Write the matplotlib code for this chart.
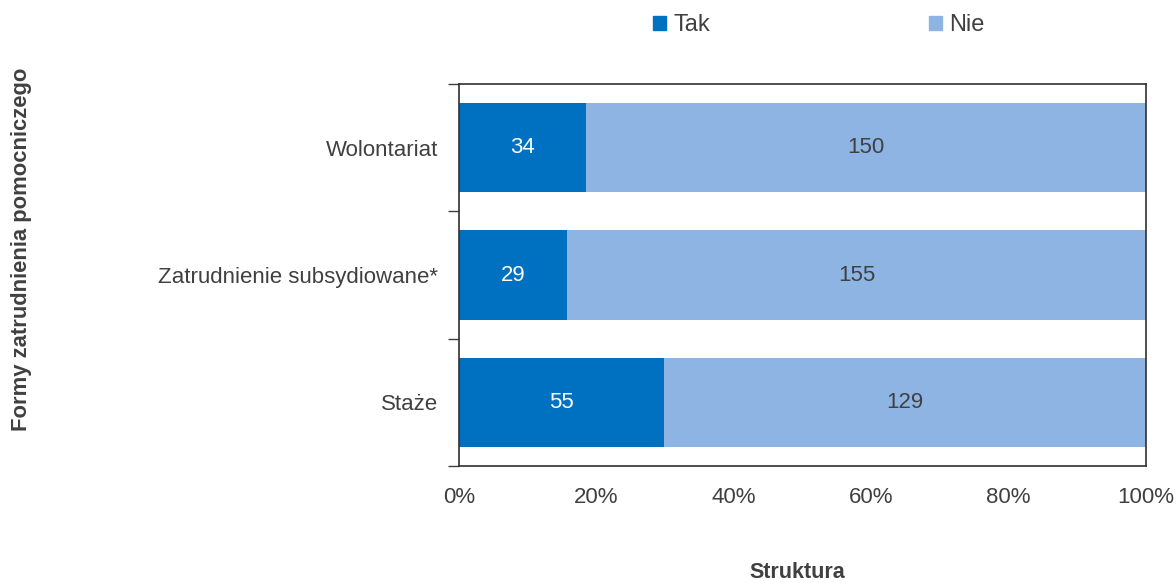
import matplotlib
matplotlib.use("Agg")
import matplotlib.pyplot as plt
from matplotlib.patches import Patch
import numpy as np

plt.rcParams['font.family'] = ['Liberation Sans', 'DejaVu Sans']

categories = ['Wolontariat', 'Zatrudnienie subsydiowane*', 'Staże']
tak = [34, 29, 55]
nie = [150, 155, 129]
series_names = ['Tak', 'Nie']

dark = '#0070C0'
light = '#8EB4E3'
text_col = '#404040'

tak_a = np.array(tak, dtype=float)
nie_a = np.array(nie, dtype=float)
total = tak_a + nie_a
tak_p = tak_a / total * 100
nie_p = nie_a / total * 100

fig = plt.figure(figsize=(11.76, 5.83), dpi=100)
ax = fig.add_axes([0.3903, 0.2007, 0.5842, 0.6552])

y = np.arange(len(categories))[::-1]
ax.barh(y, tak_p, height=0.7, color=dark)
ax.barh(y, nie_p, left=tak_p, height=0.7, color=light)

for i in range(len(categories)):
    ax.text(tak_p[i] / 2, y[i], str(tak[i]), ha='center', va='center',
            color='white', fontsize=16)
    ax.text(tak_p[i] + nie_p[i] / 2, y[i], str(nie[i]), ha='center',
            va='center', color=text_col, fontsize=16)

ax.set_xlim(0, 100)
ax.set_ylim(-0.5, len(categories) - 0.5)
ax.set_xticks(np.arange(0, 101, 20))
ax.set_xticklabels([f'{v}%' for v in range(0, 101, 20)])
ax.tick_params(axis='x', length=0, pad=15, labelsize=16, labelcolor=text_col)

ax.set_yticks(y)
ax.set_yticklabels(categories)
ax.tick_params(axis='y', length=0, pad=15, labelsize=16, labelcolor=text_col)
# boundary ticks between categories
ax.set_yticks(np.arange(-0.5, len(categories), 1.0), minor=True)
ax.tick_params(axis='y', which='minor', length=8, width=1, color='#404040')

for s in ax.spines.values():
    s.set_color('#303030')
    s.set_linewidth(1.2)

fig.text(0.678, 0.009, 'Struktura', ha='center', va='baseline',
         fontsize=15.5, fontweight='bold', color=text_col)
fig.text(0.0187, 0.573, 'Formy zatrudnienia pomocniczego', rotation=90,
         ha='center', va='center', fontsize=15.8, fontweight='bold',
         color=text_col)

handles = [Patch(color=dark), Patch(color=light)]
fig.legend(handles, series_names, loc='center left',
           bbox_to_anchor=(653 / 1176, 0.957), ncol=2, frameon=False,
           fontsize=17, handlelength=0.55, handleheight=0.55,
           handletextpad=0.3, columnspacing=9.3, borderpad=0,
           borderaxespad=0, labelcolor=text_col)

fig.savefig('out.png', dpi=100)
